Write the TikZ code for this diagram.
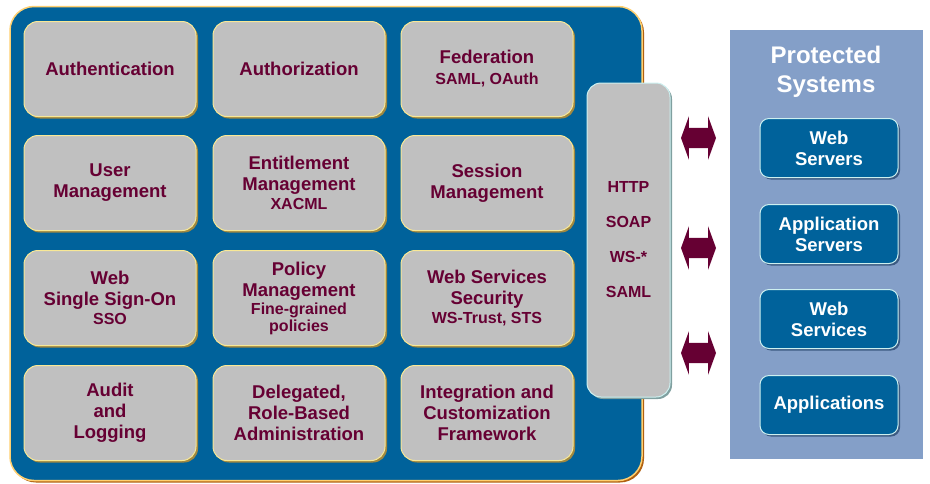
\documentclass[tikz,border=0pt]{standalone}
\usepackage{fontspec}
\setmainfont{Liberation Sans}
\usetikzlibrary{shapes.arrows,shadows}

\definecolor{coreblue}{RGB}{0,98,155}
\definecolor{cellgray}{RGB}{192,192,192}
\definecolor{darkmaroon}{RGB}{102,0,51}
\definecolor{panelblue}{RGB}{132,159,200}
\definecolor{rimgold}{RGB}{160,136,64}
\definecolor{rimlight}{RGB}{248,232,150}
\definecolor{rimpeach}{RGB}{255,208,112}
\definecolor{rimbrown}{RGB}{176,96,16}
\definecolor{rimcyan}{RGB}{205,240,240}
\definecolor{rimteal}{RGB}{128,160,160}
\definecolor{rimnavy}{RGB}{60,90,130}

\newcommand{\subline}[1]{{\fontsize{16}{18}\selectfont #1}}

\tikzset{
  cell/.style={rectangle, rounded corners=14pt, fill=cellgray, draw=rimlight, line width=1pt,
    drop shadow={shadow xshift=2pt, shadow yshift=-2pt, fill=rimgold, opacity=1},
    minimum width=172pt, minimum height=95pt, inner sep=2pt, align=center,
    text=darkmaroon, font=\fontsize{18.5}{21}\selectfont\bfseries},
  sysbox/.style={rectangle, rounded corners=9pt, fill=coreblue, draw=rimcyan, line width=1pt,
    drop shadow={shadow xshift=2pt, shadow yshift=-2pt, fill=rimnavy, opacity=1},
    minimum width=138pt, minimum height=59pt, inner sep=2pt, align=center,
    text=white, font=\fontsize{18.5}{21}\selectfont\bfseries},
  linkarrow/.style={double arrow, fill=darkmaroon, draw=none, inner xsep=0pt, inner ysep=10pt,
    minimum height=35pt, double arrow head extend=11.5pt, double arrow tip angle=140}
}

\begin{document}
\begin{tikzpicture}[x=1pt, y=-1pt]
  \useasboundingbox (0,0) rectangle (930,483);

  % Core panel
  \node[rectangle, rounded corners=24pt, fill=coreblue, draw=rimpeach, line width=1.5pt,
    drop shadow={shadow xshift=2pt, shadow yshift=-2pt, fill=rimbrown, opacity=1},
    minimum width=632pt, minimum height=474pt] (core) at (326,243.5) {};

  % Row 1
  \node[cell] (authn) at (110,69) {Authentication};
  \node[cell] (authz) at (299,69) {Authorization};
  \node[cell] (fed) at (487,69) {Federation\\\subline{SAML, OAuth}};
  % Row 2
  \node[cell] (usrmgmt) at (110,183) {User\\Management};
  \node[cell] (entmgmt) at (299,183) {Entitlement\\Management\\[-2pt]\subline{XACML}};
  \node[cell] (sessmgmt) at (487,183) {Session\\Management};
  % Row 3
  \node[cell] (websso) at (110,298) {Web\\Single Sign-On\\[-2pt]\subline{SSO}};
  \node[cell] (polmgmt) at (299,298) {Policy\\Management\\[-3pt]\subline{Fine-grained}\\[-4pt]\subline{policies}};
  \node[cell] (wssec) at (487,298) {Web Services\\Security\\[-2pt]\subline{WS-Trust, STS}};
  % Row 4
  \node[cell] (audit) at (110,413) {Audit\\and\\Logging};
  \node[cell] (admin) at (299,413) {Delegated,\\Role-Based\\Administration};
  \node[cell] (integ) at (487,413) {Integration and\\Customization\\Framework};

  % Protocols
  \node[rectangle, rounded corners=14pt, fill=cellgray, draw=rimcyan, line width=1pt,
    drop shadow={shadow xshift=2pt, shadow yshift=-2pt, fill=rimteal, opacity=1},
    minimum width=83pt, minimum height=314pt, align=center, text=darkmaroon,
    font=\fontsize{16}{35}\selectfont\bfseries] (proto) at (628.5,240)
    {HTTP\\SOAP\\WS-*\\SAML};

  % Protected systems
  \node[rectangle, fill=panelblue, minimum width=193pt, minimum height=429pt] (prot) at (826.5,244.5) {};
  \node[align=center, text=white, font=\fontsize{24}{29}\selectfont\bfseries] (prottitle) at (826,72) {Protected\\Systems};
  \node[sysbox] (websrv) at (829,148) {Web\\Servers};
  \node[sysbox] (appsrv) at (829,234) {Application\\Servers};
  \node[sysbox] (websvc) at (829,319) {Web\\Services};
  \node[sysbox] (apps) at (829,405) {Applications};

  % Arrows
  \node[linkarrow] (arr1) at (698.5,138) {};
  \node[linkarrow] (arr2) at (698.5,248) {};
  \node[linkarrow] (arr3) at (698.5,353) {};
\end{tikzpicture}
\end{document}
